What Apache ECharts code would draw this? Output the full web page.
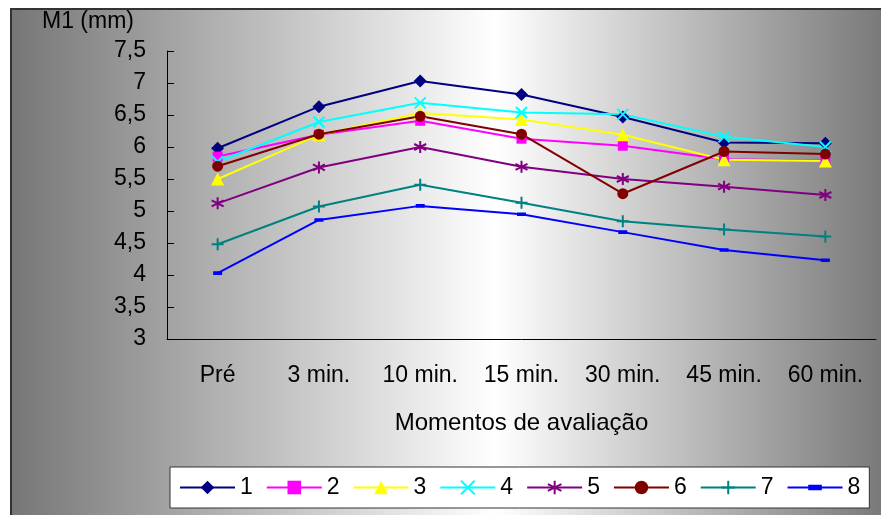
<!DOCTYPE html>
<html>
<head>
<meta charset="utf-8">
<script src="https://cdn.jsdelivr.net/npm/echarts@6/dist/echarts.min.js"></script>
<style>html,body{margin:0;padding:0;background:#fff}#c{width:881px;height:515px}</style>
</head>
<body>
<div id="c"></div>
<script>
const categories = ['Pré', '3 min.', '10 min.', '15 min.', '30 min.', '45 min.', '60 min.'];
const seriesNames = ['1', '2', '3', '4', '5', '6', '7', '8'];
const s1 = [5.98, 6.63, 7.03, 6.82, 6.47, 6.07, 6.06];
const s2 = [5.85, 6.19, 6.41, 6.13, 6.02, 5.81, 5.79];
const s3 = [5.50, 6.19, 6.53, 6.43, 6.19, 5.80, 5.78];
const s4 = [5.77, 6.39, 6.69, 6.54, 6.51, 6.16, 6.00];
const s5 = [5.12, 5.68, 6.00, 5.69, 5.50, 5.38, 5.25];
const s6 = [5.70, 6.20, 6.48, 6.20, 5.27, 5.93, 5.89];
const s7 = [4.48, 5.07, 5.41, 5.13, 4.84, 4.71, 4.60];
const s8 = [4.03, 4.86, 5.08, 4.95, 4.67, 4.39, 4.23];
const yTicks = [3, 3.5, 4, 4.5, 5, 5.5, 6, 6.5, 7, 7.5];
const yTitle = 'M1 (mm)';
const xTitle = 'Momentos de avaliação';

const FONT = "'Liberation Sans', Arial, sans-serif";
const dataSets = [s1, s2, s3, s4, s5, s6, s7, s8];
const colors = ['#000080', '#ff00ff', '#ffff00', '#00ffff', '#800080', '#800000', '#008080', '#0000ff'];
// dash marker: a flat bar inside a square bounding box (tiny zero-area segments fix the box)
const dashPath = 'path://M0,0L0.01,0M20,20L19.99,20M0,6L20,6L20,14L0,14Z';
const symbols = [
  {symbol: 'diamond', size: 13, stroke: false},
  {symbol: 'rect', size: 10, stroke: false},
  {symbol: 'triangle', size: 13, stroke: false},
  {symbol: 'path://M0,0L10,10M10,0L0,10', size: 11, stroke: true},
  {symbol: 'path://M5,0L5,10M0,2.5L10,7.5M0,7.5L10,2.5', size: 12, stroke: true},
  {symbol: 'circle', size: 11, stroke: false},
  {symbol: 'path://M5,0L5,10M0,5L10,5', size: 12, stroke: true},
  {symbol: dashPath, size: 9, stroke: false}
];

const chart = echarts.init(document.getElementById('c'), null, {renderer: 'canvas'});

const series = dataSets.map((d, i) => ({
  name: seriesNames[i],
  type: 'line',
  data: d,
  symbol: symbols[i].symbol,
  symbolSize: symbols[i].size,
  showAllSymbol: true,
  lineStyle: {color: colors[i], width: 2},
  itemStyle: symbols[i].stroke
    ? {color: colors[i], borderColor: colors[i], borderWidth: 2}
    : {color: colors[i], borderWidth: 0},
  emphasis: {disabled: true},
  animation: false
}));

chart.setOption({
  backgroundColor: '#ffffff',
  animation: false,
  graphic: {
    z: -100,
    elements: [{
      type: 'rect',
      z: -100,
      silent: true,
      shape: {x: 11, y: 9, width: 880, height: 520},
      style: {
        fill: new echarts.graphic.LinearGradient(0, 0, 1, 0, [
          {offset: 0, color: '#767676'},
          {offset: 0.55, color: '#ffffff'},
          {offset: 1, color: '#767676'}
        ]),
        stroke: '#333333',
        lineWidth: 2
      }
    }, {
      type: 'text',
      z: 10,
      silent: true,
      style: {
        text: yTitle, x: 88, y: 22, align: 'center', verticalAlign: 'middle',
        fontSize: 23, fontFamily: FONT, fill: '#000'
      }
    }]
  },
  grid: {left: 167, right: 5, top: 51, bottom: 176, containLabel: false},
  legend: {
    data: seriesNames,
    left: 170,
    top: 467,
    padding: [9, 9],
    itemWidth: 55,
    itemHeight: 17,
    itemGap: 13,
    backgroundColor: '#ffffff',
    borderColor: '#333333',
    borderWidth: 1,
    borderRadius: 0,
    textStyle: {fontSize: 23, fontFamily: FONT, color: '#000'}
  },
  xAxis: {
    type: 'category',
    data: categories,
    boundaryGap: true,
    name: xTitle,
    nameLocation: 'middle',
    nameGap: 72,
    nameTextStyle: {fontSize: 24, fontFamily: FONT, color: '#000'},
    axisLine: {lineStyle: {color: '#000', width: 1}},
    axisTick: {show: false},
    axisLabel: {fontSize: 23, fontFamily: FONT, color: '#000', margin: 25, interval: 0},
    splitLine: {show: false}
  },
  yAxis: {
    type: 'value',
    min: yTicks[0],
    max: yTicks[yTicks.length - 1],
    interval: 0.5,
    axisLine: {show: true, lineStyle: {color: '#000', width: 1}},
    axisTick: {show: true, inside: true, length: 7, lineStyle: {color: '#000'}},
    axisLabel: {
      fontSize: 23, fontFamily: FONT, color: '#000', margin: 21,
      formatter: v => String(v).replace('.', ',')
    },
    splitLine: {show: false}
  },
  series: series
});
</script>
</body>
</html>
